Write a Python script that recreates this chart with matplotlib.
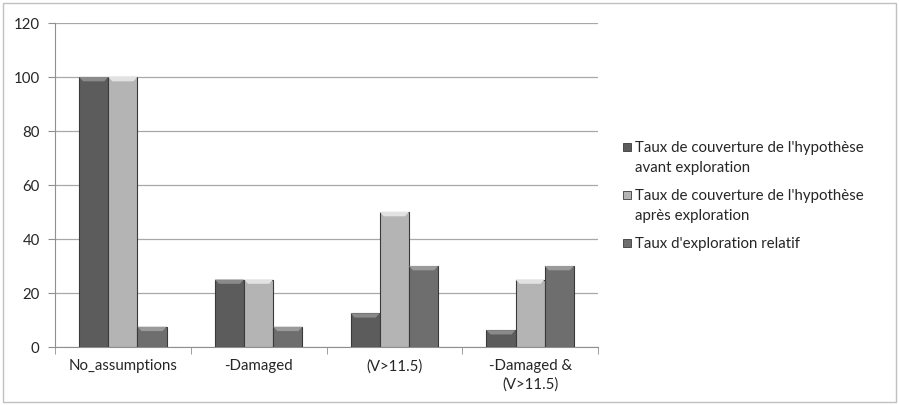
import matplotlib.pyplot as plt
import numpy as np
from matplotlib.patches import Rectangle, Polygon

categories = ['No_assumptions', '-Damaged', '(V>11.5)', '-Damaged &\n(V>11.5)']
avant = [100, 25, 12.5, 6.25]
apres = [100, 25, 50, 25]
exploration = [7.5, 7.5, 30, 30]
labels = ["Taux de couverture de l'hypothèse\navant exploration",
          "Taux de couverture de l'hypothèse\naprès exploration",
          "Taux d'exploration relatif"]
colors = ['#5c5c5c', '#b4b4b4', '#6e6e6e']
tops = ['#8a8a8a', '#e2e2e2', '#9a9a9a']

plt.rcParams['font.family'] = ['Lato', 'DejaVu Sans']

fig = plt.figure(figsize=(8.99, 4.06), dpi=100)
ax = fig.add_axes([55/899, 1 - 348/406, 543/899, 324/406])

# light frame around the whole chart
fig.patches.append(Rectangle((3/899, 3/406), 893/899, 399/406, transform=fig.transFigure,
                             fill=False, edgecolor='#c0c0c0', lw=1))

x = np.arange(len(categories)) + 0.5
w = 0.215
for i, (vals, col) in enumerate(zip([avant, apres, exploration], colors)):
    b = ax.bar(x + (i - 1) * w, vals, width=w, color=col, edgecolor='#3a3a3a', lw=0.8, zorder=3)
    # bevel highlight on top of each bar
    for p in b.patches:
        x0, wd, h = p.get_x(), p.get_width(), p.get_height()
        d = 1.6
        ax.add_patch(Polygon([(x0, h), (x0 + wd, h), (x0 + wd - 0.03, h - d), (x0 + 0.03, h - d)],
                             closed=True, color=tops[i], lw=0, zorder=4))

ax.set_xlim(0, 4)
ax.set_ylim(0, 120)
ax.set_yticks(range(0, 121, 20))
ax.set_xticks(x)
ax.set_xticklabels(categories, fontsize=10.8, linespacing=1.4, color='#262626')
ax.set_xticks(range(0, 5), minor=True)
ax.tick_params(axis='x', which='major', length=0, pad=8)
ax.tick_params(axis='x', which='minor', length=5, color='#909090', direction='out')
ax.tick_params(axis='y', length=5, color='#909090', labelsize=10.8, pad=6, labelcolor='#262626')
ax.yaxis.grid(True, color='#a8a8a8', lw=0.9, zorder=0)
for s in ['top', 'right']:
    ax.spines[s].set_visible(False)
for s in ['left', 'bottom']:
    ax.spines[s].set_color('#909090')

# legend drawn by hand so the marker sits on the first text line
leg_y = [148, 196, 244]
for lab, col, yy in zip(labels, colors, leg_y):
    fig.patches.append(Rectangle((623/899, 1 - (yy + 4) / 406), 8/899, 8/406,
                                 transform=fig.transFigure, facecolor=col,
                                 edgecolor='#3a3a3a', lw=0.6))
    fig.text(635/899, 1 - (yy - 7) / 406, lab, fontsize=10.8, va='top', ha='left',
             linespacing=1.55, color='#262626')

fig.savefig('out.png', dpi=100)
